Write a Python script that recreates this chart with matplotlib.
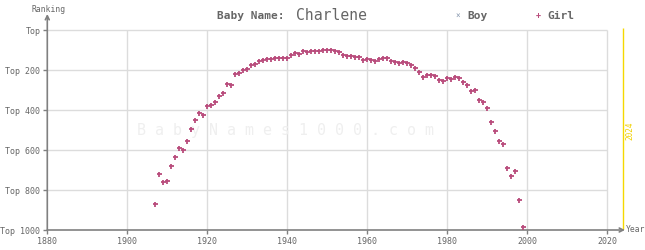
import matplotlib
matplotlib.use('Agg')
import matplotlib.pyplot as plt

## data (girl ranking per year)
years = list(range(1907, 2000))
girl_rank = [872, 722, 762, 757, 682, 637, 592, 602, 557, 497,
             452, 417, 427, 382, 377, 362, 332, 317, 272, 275,
             222, 217, 202, 197, 177, 172, 157, 152, 147, 147,
             142, 142, 142, 142, 127, 117, 122, 107, 112, 107,
             107, 107, 102, 102, 102, 107, 112, 127, 132, 132,
             137, 137, 152, 147, 152, 157, 147, 142, 142, 157,
             162, 167, 162, 167, 177, 192, 212, 237, 227, 227,
             232, 252, 257, 242, 247, 237, 242, 262, 277, 307,
             302, 352, 362, 392, 462, 507, 557, 572, 692, 732,
             707, 852, 987]
boy_years = []
boy_rank = []

x_ticks = list(range(1880, 2021, 20))
y_ticks = [0, 200, 400, 600, 800, 1000]
y_labels = ['Top', 'Top 200', 'Top 400', 'Top 600', 'Top 800', 'Top 1000']
current_year = 2024

W, H = 645, 250
MONO = 'DejaVu Sans Mono'
GIRL = '#b94c7c'
BOY = '#8a9ab0'
GRID = '#dcdcdc'
AXIS = '#808080'
TXT = '#666666'

fig = plt.figure(figsize=(W / 100, H / 100), dpi=100)
# axes: 1880 at x=47.3 px, 2024.5 at ~625 px; rank 1000 at y=230, rank -80 at y=14
ax = fig.add_axes([47.3 / W, 20 / H, (625 - 47.3) / W, 216 / H])
ax.set_xlim(1880, 2024.4)
ax.set_ylim(1000, -80)

for s in ax.spines.values():
    s.set_visible(False)

# grid box only up to 2020 / rank 0
ax.hlines(y_ticks[:-1], 1880, 2020, color=GRID, lw=1, zorder=0)
ax.vlines(x_ticks[1:], 0, 1000, color=GRID, lw=1, zorder=0)

# axes with arrow heads
ax.annotate('', xy=(2024.4, 1000), xytext=(1880, 1000), annotation_clip=False,
            arrowprops=dict(arrowstyle='->', color=AXIS, lw=1.2,
                            shrinkA=0, shrinkB=0, mutation_scale=7))
ax.annotate('', xy=(1880, -80), xytext=(1880, 1000), annotation_clip=False,
            arrowprops=dict(arrowstyle='->', color=AXIS, lw=1.2,
                            shrinkA=0, shrinkB=0, mutation_scale=7))

# current year marker
ax.vlines(current_year, -10, 1010, color='#f5d800', lw=1, zorder=1)

ax.set_xticks(x_ticks)
ax.set_xticklabels([str(x) for x in x_ticks], family=MONO)
ax.set_yticks(y_ticks)
ax.set_yticklabels(y_labels, family=MONO)
ax.tick_params(axis='both', colors=AXIS, labelcolor=TXT, labelsize=6,
               length=3, width=1, pad=2)

# watermark
ax.text(1902.4, 505, 'B a b y N a m e s 1 0 0 0 . c o m', family=MONO,
        fontsize=10.8, color='#efefef', ha='left', va='center', zorder=0)

ax.plot(boy_years, boy_rank, 'x', color=BOY, ms=3, mew=1)
ax.plot(years, girl_rank, '+', color=GIRL, ms=3.6, mew=1.3, zorder=3)

## labels in pixel positions
def px(x, y):
    return x / W, 1 - y / H

fig.text(*px(32, 9), 'Ranking', family=MONO, fontsize=5.8, color=TXT, va='center')
fig.text(*px(626, 230), 'Year', family=MONO, fontsize=5.8, color=TXT, va='center')
fig.text(*px(217, 16), 'Baby Name:', family=MONO, fontsize=8, weight='bold',
         color=TXT, va='center')
fig.text(*px(296, 16), 'Charlene', family=MONO, fontsize=10.6, color=TXT, va='center')
fig.text(*px(458, 16), '×', family=MONO, fontsize=5.5, color=BOY, va='center', ha='center')
fig.text(*px(467, 16), 'Boy', family=MONO, fontsize=8, weight='bold', color=TXT, va='center')
fig.text(*px(538, 16), '+', family=MONO, fontsize=6, weight='bold', color=GIRL,
         va='center', ha='center')
fig.text(*px(547, 16), 'Girl', family=MONO, fontsize=8, weight='bold', color=TXT, va='center')
fig.text(*px(630, 131), '2024', family=MONO, fontsize=5.5, color='#f0d000',
         rotation=90, va='center', ha='center')

fig.savefig('out.png', dpi=100)
